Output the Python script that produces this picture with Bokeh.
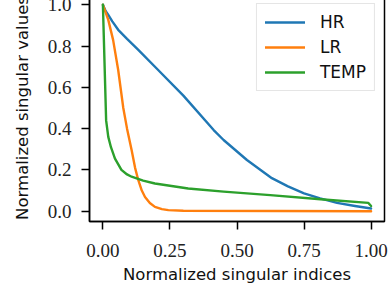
from bokeh.plotting import figure
from bokeh.models import Range1d, FixedTicker, CustomJSTickFormatter, Legend, LegendItem
from bokeh.embed import file_html
from bokeh.resources import INLINE

# ---- data ----
hr_x = [0.0, 0.01, 0.02, 0.035, 0.057, 0.09, 0.132, 0.206, 0.30, 0.413, 0.45, 0.537, 0.63, 0.69, 0.75, 0.81, 0.873, 0.94, 1.0]
hr_y = [1.0, 0.97, 0.951, 0.92, 0.879, 0.835, 0.782, 0.684, 0.56, 0.393, 0.345, 0.248, 0.16, 0.12, 0.086, 0.062, 0.040, 0.025, 0.013]

lr_x = [0.0, 0.02, 0.038, 0.057, 0.076, 0.09, 0.107, 0.12, 0.132, 0.145, 0.157, 0.175, 0.194, 0.22, 0.244, 0.3, 1.0]
lr_y = [1.0, 0.927, 0.83, 0.684, 0.50, 0.40, 0.296, 0.21, 0.150, 0.10, 0.069, 0.04, 0.021, 0.01, 0.005, 0.002, 0.0]

temp_x = [0.0, 0.006, 0.012, 0.02, 0.03, 0.045, 0.069, 0.09, 0.107, 0.15, 0.194, 0.318, 0.45, 0.624, 0.811, 0.99, 1.0]
temp_y = [1.0, 0.72, 0.44, 0.36, 0.31, 0.255, 0.20, 0.178, 0.167, 0.148, 0.134, 0.110, 0.095, 0.078, 0.058, 0.040, 0.025]

series_names = ["HR", "LR", "TEMP"]
series_colors = ["#1f77b4", "#ff7f0e", "#2ca02c"]

x_ticks = [0.0, 0.25, 0.5, 0.75, 1.0]
y_ticks = [0.0, 0.2, 0.4, 0.6, 0.8, 1.0]

x_label = "Normalized singular indices"
y_label = "Normalized singular values"

# ---- figure ----
p = figure(
    output_backend="svg",
    toolbar_location=None,
    frame_width=295,
    frame_height=227,
    min_border_left=89,
    min_border_right=5,
    min_border_top=1,
    min_border_bottom=60,
    x_range=Range1d(-0.05, 1.05),
    y_range=Range1d(-0.05, 1.05),
)
p.styles = {"margin-top": "-7px"}

p.xgrid.visible = False
p.ygrid.visible = False
p.outline_line_color = "black"
p.outline_line_width = 1.5
p.outline_line_alpha = 1.0

for ax in (p.xaxis[0], p.yaxis[0]):
    ax.axis_line_color = "black"
    ax.axis_line_width = 1.5
    ax.major_tick_line_color = "black"
    ax.major_tick_line_width = 1.5
    ax.major_tick_out = 8
    ax.major_tick_in = 0
    ax.minor_tick_line_color = None
    ax.major_label_text_font = "Liberation Serif"
    ax.major_label_text_font_size = "19px"
    ax.major_label_text_color = "#222222"
    ax.axis_label_text_font = "DejaVu Sans"
    ax.axis_label_text_font_size = "16.5px"
    ax.axis_label_text_font_style = "normal"
    ax.axis_label_text_color = "#111111"

p.xaxis[0].ticker = FixedTicker(ticks=x_ticks)
p.yaxis[0].ticker = FixedTicker(ticks=y_ticks)
p.xaxis[0].formatter = CustomJSTickFormatter(code="return tick.toFixed(2);")
p.yaxis[0].formatter = CustomJSTickFormatter(code="return tick.toFixed(1);")
p.xaxis[0].axis_label = x_label
p.yaxis[0].axis_label = y_label
p.xaxis[0].major_label_standoff = 14
p.yaxis[0].major_label_standoff = 10
p.xaxis[0].axis_label_standoff = 5
p.yaxis[0].axis_label_standoff = 13

renderers = []
for xs, ys, c in zip([hr_x, lr_x, temp_x], [hr_y, lr_y, temp_y], series_colors):
    r = p.line(xs, ys, line_color=c, line_width=2.4, line_join="round", line_cap="round")
    renderers.append(r)

legend = Legend(
    items=[LegendItem(label=n, renderers=[r]) for n, r in zip(series_names, renderers)],
    location="top_right",
    label_text_font="DejaVu Sans",
    label_text_font_size="17px",
    label_text_color="#111111",
    glyph_width=40,
    glyph_height=20,
    label_height=20,
    label_standoff=15,
    spacing=5,
    padding=8,
    margin=9,
    border_line_color="#cccccc",
    border_line_width=1.5,
    background_fill_color="white",
    background_fill_alpha=0.8,
)
p.add_layout(legend)

open("out.html", "w").write(file_html(p, INLINE))
